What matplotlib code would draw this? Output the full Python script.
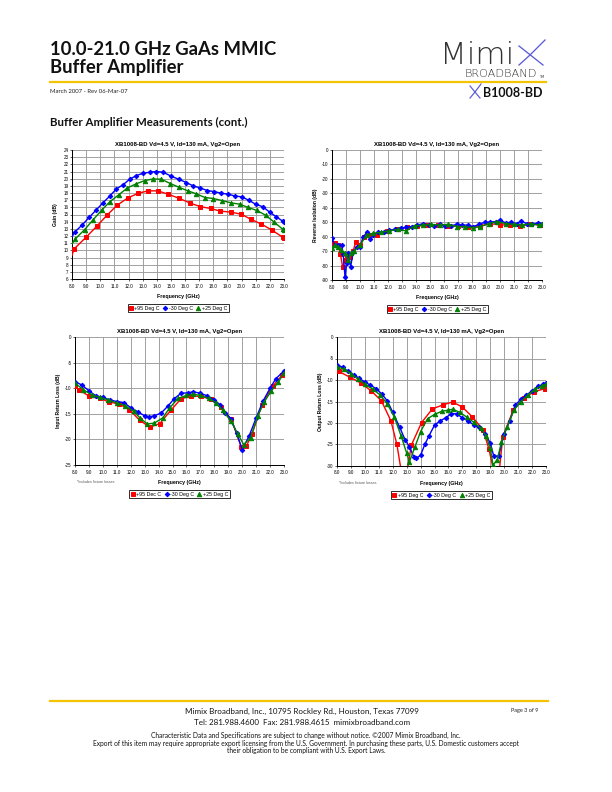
import matplotlib
matplotlib.use("Agg")
import matplotlib.pyplot as plt
from matplotlib.lines import Line2D

W, H = 612, 792

# ---------------- DATA ----------------
# Gain (dB) vs frequency (GHz)
gain_red_f = [8.0, 8.14, 9.01, 9.77, 10.5, 11.2, 11.94, 12.69, 13.4, 14.08, 14.8, 15.57, 16.37, 17.08, 17.8, 18.5, 19.25, 19.96, 20.64, 21.4, 22.15, 22.93, 23.0]
gain_red_v = [9.3, 10.18, 11.85, 13.4, 14.95, 16.3, 17.3, 17.97, 18.3, 18.3, 17.83, 17.27, 16.58, 16.1, 15.84, 15.47, 15.33, 15.05, 14.35, 13.66, 12.82, 11.8, 11.7]
gain_blue_f = [8.0, 8.19, 8.73, 9.23, 9.72, 10.19, 10.66, 11.14, 11.6, 12.08, 12.55, 13.02, 13.5, 13.97, 14.44, 15.03, 15.57, 16.1, 16.56, 17.08, 17.58, 18.05, 18.57, 19.04, 19.5, 20.0, 20.5, 20.99, 21.51, 21.98, 22.46, 22.93, 23.0]
gain_blue_v = [11.9, 12.55, 13.56, 14.63, 15.65, 16.63, 17.55, 18.57, 19.13, 19.92, 20.43, 20.75, 20.9, 21.0, 20.9, 20.34, 19.9, 19.45, 19.0, 18.7, 18.34, 18.2, 17.97, 17.83, 17.6, 17.46, 17.0, 16.44, 16.07, 15.33, 14.68, 14.03, 14.0]
gain_green_f = [8.0, 8.24, 8.9, 9.49, 10.1, 10.69, 11.3, 11.92, 12.53, 13.14, 13.73, 14.32, 14.96, 15.57, 16.2, 16.8, 17.41, 18.0, 18.6, 19.25, 19.86, 20.47, 21.08, 21.7, 22.3, 22.93, 23.0]
gain_green_v = [10.9, 11.62, 12.9, 14.26, 15.6, 16.8, 17.74, 18.71, 19.27, 19.73, 19.96, 19.92, 19.32, 18.8, 18.3, 17.88, 17.37, 17.23, 16.95, 16.63, 16.44, 15.98, 15.56, 14.9, 13.94, 12.91, 12.9]

# Reverse isolation (dB)
iso_red_f = [8.0, 8.2, 8.45, 8.6, 8.76, 8.93, 9.1, 9.3, 9.5, 9.71, 10.0, 10.3, 10.6, 11.2, 11.93, 12.64, 13.36, 14.07, 14.79, 15.55, 16.26, 17.02, 17.74, 18.55, 19.26, 20.02, 20.74, 21.45, 22.17, 22.88, 23.0]
iso_red_v = [-65, -64.6, -65.8, -72, -81, -76, -73, -74, -70, -63.5, -66, -60, -59, -58.7, -55.9, -55, -53.4, -52.7, -52.2, -51.7, -52.7, -52.7, -53.4, -52.7, -51, -51.7, -52.2, -52.9, -51, -52.2, -52]
iso_blue_f = [8.0, 8.2, 8.45, 8.69, 8.8, 8.93, 9.05, 9.17, 9.33, 9.52, 9.76, 10.0, 10.24, 10.5, 10.71, 10.95, 11.3, 11.7, 12.1, 12.5, 12.9, 13.3, 13.7, 14.1, 14.5, 14.9, 15.3, 15.7, 16.1, 16.5, 16.9, 17.3, 17.7, 18.1, 18.5, 18.9, 19.3, 19.7, 20.0, 20.4, 20.8, 21.2, 21.5, 21.9, 22.3, 22.7, 23.0]
iso_blue_v = [-61, -65.8, -66, -65.8, -72, -88, -78, -71.5, -80.8, -70.4, -67, -67, -60, -57, -61.9, -58.8, -57, -57, -55.5, -55, -54, -53.5, -53, -52, -51, -52, -52.5, -51.5, -52.5, -52.5, -51.5, -52, -52, -53, -51.5, -50, -50, -49.5, -48.5, -50.5, -50, -51, -49, -51, -51.5, -50.5, -51]
iso_green_f = [8.0, 8.2, 8.45, 8.64, 8.93, 9.17, 9.33, 9.6, 10.0, 10.48, 10.95, 11.5, 12.1, 12.7, 13.3, 13.9, 14.5, 15.1, 15.7, 16.3, 16.9, 17.5, 18.1, 18.6, 19.2, 19.8, 20.4, 21.0, 21.6, 22.2, 22.8, 23.0]
iso_green_v = [-67.7, -65.8, -67, -69.2, -71.5, -76, -71.5, -70, -65.8, -58.8, -57.6, -57, -56, -55, -56, -52.5, -52, -51.5, -52, -51.5, -53, -53, -54, -53, -51, -49.5, -51, -51.5, -52, -51, -52, -51.5]

# Input return loss (dB)
irl_red_f = [8.0, 8.3, 9.03, 9.8, 10.46, 11.18, 11.9, 12.66, 13.37, 14.09, 14.88, 15.6, 16.3, 17.03, 17.74, 18.46, 19.22, 19.94, 20.3, 20.7, 21.42, 22.19, 22.88, 23.0]
irl_red_v = [-9.6, -10.3, -11.6, -12.0, -12.7, -13.1, -14.2, -16.3, -17.6, -16.9, -14.3, -12.1, -11.5, -11.6, -12.1, -13.7, -16.1, -21.5, -21.3, -19.0, -13.2, -9.6, -7.4, -7.1]
irl_blue_f = [8.0, 8.5, 9.0, 9.5, 10.0, 10.5, 11.0, 11.5, 12.0, 12.5, 13.0, 13.3, 13.7, 14.2, 14.7, 15.1, 15.6, 16.1, 16.5, 17.0, 17.5, 18.0, 18.4, 18.8, 19.2, 19.6, 20.0, 20.5, 21.0, 21.5, 22.0, 22.4, 23.0]
irl_blue_v = [-8.7, -9.4, -10.5, -11.5, -11.8, -12.3, -12.6, -12.8, -13.8, -14.6, -15.4, -15.6, -15.4, -14.8, -13.4, -12.1, -11.0, -10.9, -10.7, -11.0, -11.5, -12.3, -13.2, -14.8, -16.0, -18.8, -22.0, -19.3, -15.8, -12.5, -10.0, -8.2, -6.6]
irl_green_f = [8.0, 8.6, 9.2, 9.8, 10.4, 11.0, 11.6, 12.2, 12.7, 13.2, 13.7, 14.3, 14.8, 15.4, 16.0, 16.5, 17.0, 17.6, 18.1, 18.6, 19.2, 19.7, 20.1, 20.6, 21.1, 21.6, 22.1, 22.6, 23.0]
irl_green_v = [-9.0, -10.3, -11.3, -11.8, -12.3, -12.9, -13.4, -14.5, -15.9, -17.0, -16.8, -15.8, -13.8, -12.0, -11.4, -11.2, -11.4, -12.0, -12.8, -14.3, -16.5, -19.0, -21.0, -19.7, -15.5, -12.6, -10.5, -8.8, -7.0]

# Output return loss (dB)
orl_red_f = [8.0, 8.12, 8.96, 9.72, 10.44, 11.18, 11.87, 12.3, 12.6, 12.8, 13.05, 13.33, 14.07, 14.85, 15.6, 16.29, 17.0, 17.72, 18.48, 18.9, 19.2, 19.4, 19.65, 19.9, 20.66, 21.42, 22.16, 22.93, 23.0]
orl_red_v = [-7.2, -8.0, -9.4, -10.7, -12.5, -14.8, -19.5, -25.0, -31.0, -40.0, -31.0, -25.2, -19.9, -16.7, -15.8, -15.1, -16.3, -18.6, -21.6, -26.0, -30.5, -40.0, -31.0, -23.2, -16.9, -14.2, -12.7, -12.0, -11.9]
orl_blue_f = [8.0, 8.4, 8.8, 9.2, 9.6, 10.0, 10.4, 10.8, 11.2, 11.6, 12.0, 12.5, 12.9, 13.2, 13.5, 13.7, 14.0, 14.3, 14.6, 15.0, 15.4, 15.8, 16.2, 16.6, 17.0, 17.4, 17.8, 18.2, 18.6, 19.0, 19.25, 19.6, 20.0, 20.4, 20.8, 21.2, 21.6, 22.0, 22.4, 22.8, 23.0]
orl_blue_v = [-6.5, -7.0, -8.0, -8.8, -9.6, -10.5, -11.2, -12.0, -13.2, -14.8, -17.5, -21.0, -24.0, -25.5, -27.8, -28.2, -27.5, -25.0, -23.0, -20.5, -19.5, -18.8, -17.8, -17.9, -18.8, -19.5, -20.4, -21.0, -22.5, -24.6, -27.7, -27.7, -22.5, -19.5, -15.8, -14.5, -13.5, -12.5, -11.5, -11.0, -10.8]
orl_green_f = [8.0, 8.5, 9.0, 9.5, 10.0, 10.6, 11.1, 11.6, 12.1, 12.6, 13.0, 13.2, 13.6, 14.0, 14.5, 15.0, 15.5, 16.0, 16.3, 16.8, 17.3, 17.8, 18.3, 18.7, 19.0, 19.2, 19.5, 19.8, 20.2, 20.7, 21.2, 21.7, 22.2, 22.7, 23.0]
orl_green_v = [-6.9, -7.5, -8.5, -9.8, -11.0, -12.2, -13.5, -15.5, -18.5, -23.0, -27.0, -29.0, -25.5, -22.0, -19.0, -18.0, -17.3, -17.0, -16.8, -17.5, -18.6, -19.8, -21.2, -23.0, -25.8, -29.8, -28.5, -24.5, -21.0, -17.0, -15.0, -13.5, -12.2, -11.3, -11.0]

freq_ticks = [8.0, 9.0, 10.0, 11.0, 12.0, 13.0, 14.0, 15.0, 16.0, 17.0, 18.0, 19.0, 20.0, 21.0, 22.0, 23.0]
legend_std = ["+95 Deg C", "-30 Deg C", "+25 Deg C"]
legend_irl = ["+95 Dec C", "-30 Deg C", "+25 Deg C"]
chart_title = "XB1008-BD Vd=4.5 V, Id=130 mA, Vg2=Open"

# ---------------- FIGURE ----------------
fig = plt.figure(figsize=(W / 72, H / 72), dpi=72)
fig.patch.set_facecolor("white")

HEAD = "Lato"
CH = "Liberation Sans"
LOGO = "#5A5AD6"


def T(x, y, s, **kw):
    kw.setdefault("va", "baseline")
    return fig.text(x / W, 1 - y / H, s, **kw)


def HL(x1, x2, y, color, lw):
    fig.add_artist(Line2D([x1 / W, x2 / W], [1 - y / H, 1 - y / H], color=color, lw=lw))


def PL(xs, ys, color, lw):
    fig.add_artist(Line2D([x / W for x in xs], [1 - y / H for y in ys], color=color, lw=lw))


# Header
T(50, 55, "10.0-21.0 GHz GaAs MMIC", fontsize=18.5, fontweight="bold", family=HEAD, color="#111111")
T(50, 73, "Buffer Amplifier", fontsize=18.5, fontweight="bold", family=HEAD, color="#111111")
HL(50, 546, 82, "#F5C400", 2.2)
T(50, 93, "March 2007 - Rev 06-Mar-07", fontsize=6, family=HEAD, color="#222222")
T(50, 126, "Buffer Amplifier Measurements (cont.)", fontsize=11.5, fontweight="bold", family=HEAD, color="#111111")

# Logo
T(440, 64, "Mimi", fontsize=31, family="DejaVu Sans", fontweight="light", color="#333333")
PL([519, 543], [46, 65], LOGO, 1.3)
PL([519, 530, 545], [65, 55, 40], LOGO, 1.3)
T(465, 77, "BROADBAND", fontsize=11.3, family="DejaVu Sans", fontweight="light", color="#333333")
T(539, 78, "TM", fontsize=3.5, family="DejaVu Sans", color="#333333")
PL([470, 480], [86, 98], LOGO, 1.2)
PL([470, 475, 481], [98, 92, 84], LOGO, 1.2)
T(483, 97, "B1008-BD", fontsize=12.5, fontweight="bold", family=HEAD, color="#111111")

# Footer
HL(50, 548, 701, "#F5C400", 2.2)
T(302, 714, "Mimix Broadband, Inc., 10795 Rockley Rd., Houston, Texas 77099", fontsize=8, family=HEAD, ha="center", color="#111111")
T(302, 725, "Tel: 281.988.4600  Fax: 281.988.4615  mimixbroadband.com", fontsize=8, family=HEAD, ha="center", color="#111111")
T(525, 712, "Page 3 of 9", fontsize=5.5, family=HEAD, ha="center", color="#222222")
T(306, 738, "Characteristic Data and Specifications are subject to change without notice. \u00a92007 Mimix Broadband, Inc.", fontsize=6.6, family=HEAD, ha="center", color="#111111")
T(306, 745.5, "Export of this item may require appropriate export licensing from the U.S. Government. In purchasing these parts, U.S. Domestic customers accept", fontsize=6.6, family=HEAD, ha="center", color="#111111")
T(306, 753, "their obligation to be compliant with U.S. Export Laws.", fontsize=6.6, family=HEAD, ha="center", color="#111111")

RED, BLUE, GREEN = "#FF0000", "#0000FF", "#008000"


def make_ax(box, ylim, yticks, ylabel, series, legend_labels, note=False, skip_first=False):
    x1, y1, x2, y2 = box
    ax = fig.add_axes([x1 / W, 1 - y2 / H, (x2 - x1) / W, (y2 - y1) / H])
    styles = [(RED, "s", 4.2), (BLUE, "D", 3.2), (GREEN, "^", 4.4)]
    handles = []
    for (f, v), (c, m, ms), lab in zip(series, styles, legend_labels):
        me = [i for i, val in enumerate(v) if ylim[0] <= val <= ylim[1]]
        if skip_first:
            me = [i for i in me if i != 0]
        ax.plot(f, v, color=c, lw=1.4, marker=m, ms=ms, markevery=me, mec=c, mfc=c, zorder=3)
        handles.append(Line2D([], [], color=c, lw=0, marker=m, ms=ms, mec=c, mfc=c, label=lab))
    ax.set_xlim(8, 23)
    ax.set_ylim(*ylim)
    ax.set_xticks(freq_ticks)
    ax.set_xticklabels([f"{t:.1f}" for t in freq_ticks], fontsize=4.5, family=CH)
    ax.set_yticks(yticks)
    ax.set_yticklabels([str(t) for t in yticks], fontsize=4.5, family=CH)
    ax.grid(True, color="#999999", lw=0.9, zorder=0)
    ax.set_axisbelow(True)
    for s in ("top", "right"):
        ax.spines[s].set_visible(False)
    for s in ("left", "bottom"):
        ax.spines[s].set_color("black")
        ax.spines[s].set_linewidth(1.0)
    ax.tick_params(axis="both", length=2, width=0.6, pad=1.5, colors="black")
    ax.tick_params(axis="x", pad=2.5)
    h = y2 - y1
    w = x2 - x1
    ax.set_title(chart_title, fontsize=6.0, fontweight="bold", family=CH, pad=4)
    ax.set_xlabel("Frequency (GHz)", fontsize=5.2, fontweight="bold", family=CH)
    ax.xaxis.set_label_coords(0.5, -15 / h)
    ax.set_ylabel(ylabel, fontsize=5.0, fontweight="bold", family=CH)
    ax.yaxis.set_label_coords(-14 / w, 0.5)
    leg = ax.legend(handles=handles, loc="upper center", bbox_to_anchor=(0.5, -25 / h), ncol=3,
                    frameon=True, fancybox=False, prop={"family": CH, "size": 5.2},
                    handlelength=0.7, handletextpad=0.3, columnspacing=0.7, borderpad=0.3,
                    borderaxespad=0)
    leg.get_frame().set_edgecolor("black")
    leg.get_frame().set_linewidth(1.0)
    if note:
        ax.text(0.01, -15 / h, "*Includes fixture losses", transform=ax.transAxes, fontsize=3.6,
                family=CH, color="#555555", va="top", ha="left")
    return ax


make_ax((72, 150, 284, 279), (6, 24), list(range(6, 25)), "Gain (dB)",
        [(gain_red_f, gain_red_v), (gain_blue_f, gain_blue_v), (gain_green_f, gain_green_v)],
        legend_std, skip_first=True)
make_ax((332, 150, 542, 280), (-90, 0), list(range(-90, 1, 10)), "Reverse Isolation (dB)",
        [(iso_red_f, iso_red_v), (iso_blue_f, iso_blue_v), (iso_green_f, iso_green_v)],
        legend_std)
make_ax((75, 337, 284, 465), (-25, 0), list(range(-25, 1, 5)), "Input Return Loss (dB)",
        [(irl_red_f, irl_red_v), (irl_blue_f, irl_blue_v), (irl_green_f, irl_green_v)],
        legend_irl, note=True)
make_ax((337, 337, 546, 466), (-30, 0), list(range(-30, 1, 5)), "Output Return Loss (dB)",
        [(orl_red_f, orl_red_v), (orl_blue_f, orl_blue_v), (orl_green_f, orl_green_v)],
        legend_std, note=True)

fig.savefig("out.png", dpi=72, facecolor="white")
